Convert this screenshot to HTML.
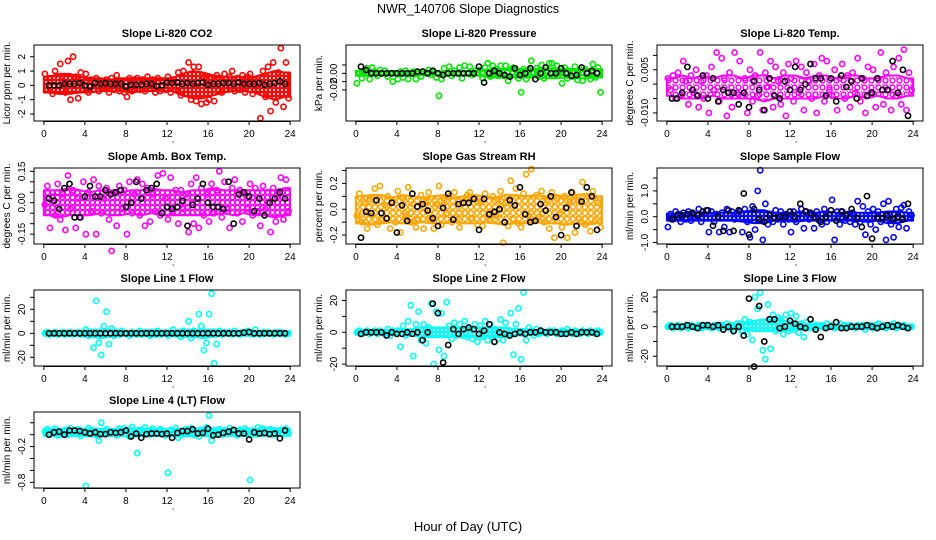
<!DOCTYPE html>
<html><head><meta charset="utf-8"><title>NWR_140706 Slope Diagnostics</title>
<style>
html,body{margin:0;padding:0;background:#fff;}
svg{display:block;font-family:"Liberation Sans",Arial,sans-serif;}
</style></head>
<body>
<svg id="chart" width="936" height="540" viewBox="0 0 936 540" xmlns="http://www.w3.org/2000/svg">
<defs id="defs"></defs>
<rect width="936" height="540" fill="#fff"/>
<text x="468" y="13" text-anchor="middle" font-size="12.5">NWR_140706  Slope Diagnostics</text>
<text x="468" y="531" text-anchor="middle" font-size="13">Hour of Day (UTC)</text>
<g id="panels"></g>
</svg>
<script>
// ---- data (colored: every 0.25 h, black: every 0.5 h, dense band: hourly low/high envelope) ----
const xTicks = [0,4,8,12,16,20,24];
const co2Color = [0.8,-0.3,0.5,-0.6, 1.0,-0.4,1.5,0.3, -0.5,1.7,-1.0,2.0, 0.6,-0.9,0.9,-0.3, 0.8,-0.5,0.4,-0.3, 0.5,-0.4,0.3,-0.2, 0.4,-0.5,0.5,-0.3, 0.7,-0.4,0.3,-0.5, -0.8,0.5,-0.4,0.4, 0.5,-0.3,0.4,-0.4, 0.6,-0.2,0.4,-0.5, 0.5,-0.4,0.3,-0.3, 0.6,-0.5,0.4,-0.3, 0.9,-0.7,1.0,-0.6, 1.6,-1.0,1.3,-1.1, 1.3,-1.3,0.6,-1.2, -1.0,0.5,-1.1,0.7, 0.5,-0.5,0.8,-0.3, 0.6,1.0,-0.4,0.5, -0.3,0.7,-0.5,0.6, 0.8,-0.6,0.4,-0.3, -2.3,1.0,-0.8,1.3, -1.8,1.6,-1.2,0.9, 2.6,-1.5,1.6,-0.9];
const co2Black = [0.0,0.0,0.0,0.1,0.1,0.1,0.15,0.0,-0.1,0.15,0.1,0.15,0.1,0.1,0.1,-0.1,0.05,0.05,0.05,0.1,0.1,-0.05,0.0,0.2,0.15,0.2,0.1,0.15,0.1,0.15,0.2,0.05,0.1,0.1,0.15,0.15,0.1,0.2,0.1,0.1,0.1,0.15,0.05,0.1,0.15,0.3,0.1];
const co2BandLo = [-0.5,-0.6,-0.6,-0.5,-0.5,-0.4,-0.4,-0.4,-0.5,-0.4,-0.4,-0.4,-0.4,-0.7,-0.9,-0.9,-0.7,-0.5,-0.4,-0.4,-0.5,-0.8,-1.0,-0.8];
const co2BandHi = [0.6,0.8,0.8,0.6,0.5,0.5,0.4,0.5,0.5,0.5,0.5,0.5,0.5,0.8,1.0,0.9,0.7,0.6,0.6,0.6,0.6,0.8,1.0,0.9];
const co2Ticks = [-2,-1,0,1,2];
const co2Labels = ["-2","-1","0","1","2"];

const presColor = [-0.012,0.000,-0.006,0.003, 0.006,-0.007,0.007,0.002, -0.003,0.004,0.000,0.003, -0.004,0.000,-0.010,0.000, -0.007,0.002,-0.005,0.003, -0.007,0.000,0.002,-0.007, 0.000,-0.004,0.002,0.000, 0.004,-0.002,0.002,-0.005, -0.027,-0.007,0.006,0.000, 0.008,-0.003,0.003,0.000, 0.007,-0.006,0.009,0.000, 0.008,-0.002,0.003,0.000, 0.004,-0.006,0.007,0.012, -0.004,0.009,0.005,-0.003, 0.009,-0.003,0.009,-0.009, 0.005,0.007,0.004,-0.006, -0.023,0.005,-0.007,0.004, 0.015,0.000,0.006,-0.004, 0.010,-0.006,0.003,0.012, 0.012,-0.003,0.009,0.002, -0.012,0.007,-0.006,0.003, -0.004,0.008,-0.008,0.004, -0.009,0.005,0.000,-0.007, 0.011,-0.005,0.007,-0.023];
const presBlack = [0.008,0.004,0.000,0.000,0.000,0.000,0.000,0.000,0.000,0.000,0.000,0.002,0.002,0.000,0.003,0.000,-0.002,0.000,0.000,0.000,0.000,0.000,0.000,0.008,-0.011,0.000,0.003,0.000,-0.002,-0.004,0.006,-0.002,0.000,0.006,-0.007,0.000,0.007,0.000,0.000,0.006,0.000,-0.003,-0.002,0.007,0.000,0.003,0.000];
const presBandLo = [-0.003,-0.003,-0.002,-0.002,-0.003,-0.003,-0.002,-0.002,-0.002,-0.002,-0.002,-0.002,-0.004,-0.005,-0.005,-0.005,-0.005,-0.005,-0.006,-0.006,-0.005,-0.006,-0.006,-0.005];
const presBandHi = [0.003,0.003,0.002,0.002,0.002,0.002,0.002,0.002,0.002,0.002,0.002,0.003,0.004,0.005,0.005,0.005,0.005,0.005,0.006,0.006,0.005,0.005,0.005,0.005];
const presTicks = [-0.02,-0.01,0,0.01];
const presLabels = ["-0.02","","0.00",""];

const tempColor = [0.002,-0.002,0.003,-0.005, 0.004,-0.004,0.008,0.001, -0.007,0.003,-0.003,0.005, -0.008,0.001,-0.005,0.003, -0.010,0.006,-0.002,0.011, -0.006,0.009,0.002,-0.011, 0.004,-0.008,0.011,-0.003, 0.008,-0.004,0.002,-0.010, 0.005,-0.006,0.003,-0.004, 0.011,-0.009,0.004,-0.001, 0.008,-0.008,0.006,0.001, -0.007,0.004,-0.011,0.007, 0.002,-0.006,0.008,-0.003, 0.006,-0.009,0.004,0.001, -0.005,0.007,-0.010,0.003, 0.009,-0.006,0.008,-0.002, -0.004,0.005,-0.009,0.002, 0.007,-0.005,0.003,-0.008, 0.004,-0.003,0.009,-0.006, 0.002,-0.010,0.006,-0.003, 0.005,-0.008,0.002,0.011, -0.007,0.004,-0.002,-0.009, 0.006,-0.004,0.009,-0.007, 0.012,-0.009,0.004,-0.002];
const tempBlack = [-0.005,-0.005,-0.003,0.006,-0.002,-0.004,0.003,-0.005,0.002,-0.006,-0.002,-0.003,-0.003,-0.007,-0.003,-0.008,0.001,-0.002,-0.009,0.002,-0.004,-0.005,0.001,-0.002,0.006,-0.002,0.000,0.007,0.002,0.002,-0.004,0.002,-0.006,0.003,-0.001,0.001,-0.005,0.002,-0.004,-0.003,0.002,-0.002,-0.002,0.008,-0.003,0.005,-0.011];
const tempBandLo = [-0.004,-0.005,-0.005,-0.005,-0.004,-0.005,-0.005,-0.005,-0.005,-0.006,-0.005,-0.005,-0.005,-0.005,-0.005,-0.004,-0.005,-0.005,-0.004,-0.005,-0.004,-0.005,-0.005,-0.004];
const tempBandHi = [0.002,0.003,0.002,0.003,0.002,0.003,0.003,0.002,0.003,0.003,0.002,0.003,0.003,0.002,0.003,0.003,0.002,0.003,0.003,0.002,0.002,0.003,0.003,0.002];
const tempTicks = [-0.01,-0.005,0,0.005,0.01];
const tempLabels = ["-0.010","","","0.005",""];

const ambColor = [-0.01,0.08,-0.12,0.03, -0.06,0.09,-0.08,0.04, -0.13,0.13,-0.03,0.06, -0.12,0.02,-0.07,0.10, -0.15,0.05,-0.04,0.11, -0.15,0.08,-0.05,0.02, 0.07,-0.08,-0.23,0.05, -0.11,0.08,-0.03,0.06, -0.15,0.10,-0.05,0.04, 0.11,-0.06,0.09,-0.11, 0.07,-0.09,0.04,-0.04, 0.13,-0.06,0.14,0.02, -0.08,0.12,-0.04,0.06, -0.10,0.06,-0.03,0.04, -0.14,0.09,-0.10,0.12, -0.12,0.07,-0.06,0.04, -0.09,0.09,-0.05,0.06, 0.15,-0.07,0.10,-0.03, -0.12,0.07,0.11,-0.05, 0.06,-0.09,0.04,-0.03, 0.09,-0.06,0.07,-0.04, -0.11,0.08,-0.03,0.05, -0.14,0.07,-0.09,0.04, 0.12,-0.08,0.11,-0.04];
const ambBlack = [0.02,0.01,-0.03,0.07,0.09,-0.07,-0.07,0.03,0.08,0.03,0.03,0.06,0.04,0.05,0.06,-0.02,0.00,0.10,0.02,0.06,0.07,0.09,-0.05,-0.02,-0.03,-0.02,0.01,-0.11,-0.01,0.02,0.09,0.00,-0.02,-0.02,-0.03,0.10,-0.10,0.04,0.05,0.03,-0.04,0.02,-0.06,0.00,0.02,0.05,0.02];
const ambBandLo = [-0.06,-0.07,-0.06,-0.06,-0.06,-0.05,-0.06,-0.06,-0.05,-0.06,-0.05,-0.06,-0.06,-0.06,-0.06,-0.06,-0.06,-0.05,-0.06,-0.05,-0.06,-0.06,-0.07,-0.06];
const ambBandHi = [0.06,0.06,0.07,0.06,0.05,0.06,0.06,0.05,0.06,0.06,0.07,0.06,0.06,0.05,0.06,0.06,0.07,0.06,0.06,0.06,0.06,0.06,0.06,0.07];
const ambTicks = [-0.15,-0.1,-0.05,0,0.05,0.1,0.15];
const ambLabels = ["-0.15","","","0.00","","","0.15"];

const rhColor = [-0.05,0.12,-0.10,0.05, -0.15,0.08,-0.05,0.16, -0.12,0.18,-0.08,0.03, 0.10,-0.15,0.06,-0.10, 0.14,-0.18,0.08,-0.05, 0.17,-0.10,0.04,-0.14, -0.08,0.11,-0.15,0.06, 0.13,-0.08,-0.15,0.04, 0.18,-0.12,0.07,-0.04, 0.10,-0.10,0.13,-0.06, -0.14,0.08,-0.03,0.11, 0.13,-0.07,0.09,-0.12, 0.06,-0.13,0.12,-0.04, -0.09,0.10,-0.05,0.07, 0.14,-0.26,0.05,-0.13, 0.22,-0.08,0.16,-0.11, -0.14,0.12,0.27,-0.05, 0.31,-0.09,0.11,-0.06, 0.14,-0.10,0.07,-0.15, 0.13,-0.22,0.08,-0.04, -0.14,0.10,-0.22,0.06, 0.13,-0.18,0.07,-0.10, 0.21,-0.12,0.10,-0.17, 0.14,-0.09,0.05,-0.14];
const rhBlack = [-0.22,-0.02,-0.03,0.07,-0.03,-0.07,0.05,-0.18,0.03,-0.09,0.12,0.02,0.04,-0.01,-0.07,-0.13,0.01,0.12,-0.08,0.04,0.05,0.05,0.08,-0.16,0.08,-0.04,-0.02,0.00,-0.10,0.07,0.03,0.17,-0.04,-0.10,-0.09,0.04,-0.01,0.10,-0.06,-0.20,0.01,0.13,-0.13,0.06,0.17,0.10,-0.16];
const rhBandLo = [-0.11,-0.12,-0.11,-0.10,-0.11,-0.11,-0.10,-0.11,-0.11,-0.10,-0.11,-0.11,-0.10,-0.11,-0.12,-0.11,-0.11,-0.10,-0.11,-0.11,-0.12,-0.11,-0.12,-0.11];
const rhBandHi = [0.10,0.11,0.11,0.09,0.11,0.10,0.09,0.10,0.11,0.09,0.10,0.11,0.10,0.09,0.11,0.11,0.10,0.11,0.10,0.11,0.10,0.11,0.12,0.10];
const rhTicks = [-0.2,-0.1,0,0.1,0.2,0.3];
const rhLabels = ["-0.2","","0.0","","0.2",""];

const sampColor = [-0.4,0.1,-0.1,0.2, 0.1,-0.2,0.15,-0.1, 0.2,-0.15,0.1,-0.05, 0.3,-0.2,0.1,0.25, -0.6,0.2,-0.2,0.1, -0.6,0.15,-0.4,0.3, -0.6,0.2,-0.1,0.15, 0.2,-0.6,0.3,-0.2, -0.8,0.4,-0.5,1.0, 1.8,-0.9,0.5,-0.3, 0.1,-0.2,0.25,-0.1, 0.2,-0.3,0.1,-0.1, -0.6,0.2,-0.2,0.1, 0.3,-0.45,0.2,-0.1, 0.1,-0.45,0.2,-0.15, -0.3,0.3,-0.2,0.1, 0.65,-0.9,0.2,-0.3, 0.2,-0.15,0.1,-0.2, 0.15,-0.3,0.6,-0.2, 0.4,-0.7,0.2,-0.3, 0.3,-0.5,0.2,-0.2, 0.5,-0.9,0.6,-0.3, -0.8,0.3,-0.4,0.35, 0.45,-0.45,0.2,0.05];
const sampBlack = [-0.1,0.05,0.05,0.1,0.15,0.05,0.2,0.25,-0.35,0.0,-0.55,0.25,-0.55,0.25,0.9,-0.7,0.3,-0.1,-0.2,0.05,-0.05,0.0,0.0,0.2,0.0,0.5,0.2,0.15,-0.05,-0.2,0.0,0.25,-0.15,0.2,0.05,0.3,-0.05,-0.4,0.8,-0.85,-0.05,-0.05,0.05,-0.1,0.0,-0.1,0.5];
const sampBandLo = [-0.15,-0.15,-0.15,-0.15,-0.15,-0.15,-0.15,-0.2,-0.25,-0.25,-0.15,-0.15,-0.2,-0.15,-0.15,-0.15,-0.15,-0.15,-0.15,-0.2,-0.15,-0.25,-0.25,-0.15];
const sampBandHi = [0.12,0.12,0.15,0.15,0.15,0.15,0.15,0.2,0.25,0.25,0.15,0.15,0.15,0.15,0.15,0.2,0.15,0.15,0.15,0.15,0.15,0.2,0.2,0.15];
const sampTicks = [-1,-0.5,0,0.5,1,1.5];
const sampLabels = ["-1.0","","0.0","","1.0",""];

const l1Color = [0,1,-1,0, 1,-1,0,1, -1,0,1,-1, 0,1,-1,0, 3,-2,1,-12, 27,-8,-18,6, 18,-9,4,-2, 1,-1,2,0, 0,-2,1,0, -1,2,-1,1, 0,-2,1,-1, 2,-1,0,1, -2,1,3,-1, 0,-3,2,0, 10,-4,2,-1, 16,6,-14,-8, 16,33,-25,-9, 2,-1,1,0, 1,-1,2,0, -1,1,0,2, 1,-1,3,0, -1,1,0,1, 0,-1,1,0, 1,0,-1,0];
const l1Black = [0,0,0,0,0,0,0,0,0,0,0,0,0,0,0,0,0,0,0,0,0,0,0,0,0,0,0,0,0,0,0,0,0,0,0,0,0,0,0.5,1,0,0,0,0,0,0,0];
const l1BandLo = [-2,-2,-2,-2,-3,-4,-3,-2,-2,-2,-3,-2,-2,-3,-3,-4,-3,-2,-2,-2,-2,-2,-2,-2];
const l1BandHi = [2,2,2,2,3,3,3,2,2,2,3,2,2,3,3,3,3,2,2,2,2,2,2,2];
const l1Ticks = [-20,-10,0,10,20,30];
const l1Labels = ["-20","","0","","20",""];

const l2Color = [0,1,-1,0, 1,-1,0,1, -1,1,0,-1, 2,-2,1,0, 1,-9,4,-2, 7,17,-15,5, 13,-5,5,-7, 3,18,-20,13, -11,12,-15,19, 4,-4,6,-2, 5,-2,7,-3, 2,-4,5,-6, 4,-3,7,-5, 5,-3,2,-4, 8,-5,6,-2, 12,-14,5,15, -17,25,-5,3, 1,-2,2,-1, 1,0,-1,1, 0,1,-1,0, 1,-1,2,0, -1,1,0,-1, 1,0,-1,1, 0,-1,1,0];
const l2Black = [-1,0,0,0,0,-2,0,-1,-1,0,-1,0,-5,0,18,12,-19,-8,2,-1,2,3,2,-1,1,5,-6,0,-1,-2,-1,0,-1,0,0,1,0,0,0,-1,-1,0,-1,0,0,0,-1];
const l2BandLo = [-1.5,-1.5,-1.5,-1.5,-2,-2,-3,-3,-3,-3,-3,-3,-3,-3,-3,-2,-2,-1.5,-1.5,-1.5,-1.5,-1.5,-1.5,-1.5];
const l2BandHi = [1.5,1.5,1.5,1.5,2,2,3,3,3,3,3,3,3,3,3,2,2,1.5,1.5,1.5,1.5,1.5,1.5,1.5];
const l2Ticks = [-20,-10,0,10,20];
const l2Labels = ["-20","","0","","20"];

const l3Color = [0,1,-1,0, 1,-1,0,1, -1,1,0,-1, 1,-1,0,1, 0,-1,1,0, -1,1,0,2, -1,1,-2,2, 2,-3,5,-5, 3,-9,20,12, 23,-16,-22,15, -15,8,-3,6, 5,-5,8,-3, 9,-2,7,-4, 2,-7,3,-1, 2,-1,1,0, 1,-1,2,0, 1,-1,0,2, -1,1,0,1, 0,-1,1,0, 1,-2,0,1, -1,1,2,0, 1,-1,0,1, 2,-1,1,0, 1,-1,0,0];
const l3Black = [0,0,0,1,0,-1,1,1,0,1,-2,0,-3,0,-6,19,-27,14,-10,5,5,-1,0,4,2,0,-1,5,-2,-7,-1,0,3,-1,-1,0,0,0,1,0,-1,0,1,0,1,0,-1];
const l3BandLo = [-1.5,-1.5,-1.5,-1.5,-1.5,-1.5,-1.5,-2,-3,-3,-3,-3,-2,-2,-1.5,-1.5,-1.5,-1.5,-1.5,-1.5,-1.5,-1.5,-1.5,-1.5];
const l3BandHi = [1.5,1.5,1.5,1.5,1.5,1.5,1.5,2,4,5,5,4,3,2,1.5,1.5,1.5,1.5,1.5,1.5,1.5,1.5,1.5,1.5];
const l3Ticks = [-20,-10,0,10,20];
const l3Labels = ["-20","","0","","20"];

const l4Color = [0.05,0.09,0.01,0.07, 0.10,-0.01,0.06,0.03, 0.08,0.00,0.11,0.04, 0.02,0.09,-0.02,0.06, -0.86,0.11,0.03,0.07, 0.00,-0.10,0.20,0.05, 0.09,0.01,0.06,0.03, -0.01,0.10,0.04,0.11, 0.07,-0.03,0.13,0.02, -0.31,0.08,0.03,0.12, 0.05,0.00,0.10,0.06, 0.02,0.09,0.04,-0.01, -0.64,0.08,0.03,0.11, -0.05,0.06,0.02,0.09, 0.04,0.11,0.00,0.07, -0.03,0.08,0.05,0.12, 0.32,-0.10,0.04,0.06, 0.09,0.00,0.07,0.03, 0.11,0.02,0.06,-0.01, 0.08,0.04,0.10,0.01, -0.76,0.07,0.03,0.12, 0.05,0.10,0.02,0.07, 0.09,0.00,0.06,0.04, 0.08,0.01,0.10,0.03];
const l4Black = [0.0,0.04,0.05,0.0,0.07,0.07,0.06,0.04,0.02,0.04,0.01,0.01,0.04,0.03,0.04,0.07,-0.03,0.02,-0.05,0.01,0.02,0.02,0.01,0.02,-0.05,0.03,0.06,0.06,0.09,0.02,0.03,0.10,-0.01,0.0,0.03,0.05,0.08,0.02,0.02,-0.08,0.04,0.02,0.03,0.01,0.02,-0.06,0.07];
const l4BandLo = [-0.02,-0.03,-0.02,-0.02,-0.03,-0.03,-0.02,-0.02,-0.03,-0.03,-0.02,-0.02,-0.03,-0.03,-0.02,-0.02,-0.03,-0.02,-0.02,-0.02,-0.03,-0.02,-0.02,-0.02];
const l4BandHi = [0.10,0.10,0.10,0.10,0.11,0.10,0.10,0.10,0.11,0.10,0.10,0.10,0.10,0.10,0.10,0.11,0.11,0.10,0.10,0.10,0.10,0.11,0.11,0.10];
const l4Ticks = [-0.8,-0.6,-0.4,-0.2,0,0.2];
const l4Labels = ["-0.8","","","-0.2","",""];

// ---- layout ----
const NS = "http://www.w3.org/2000/svg";
const colLeft = [34,346,657], rowTop = [45,168,290,412], BW = 266, BH = 76;
const panels = [
 {name:"co2", title:"Slope Li-820 CO2", ylab:"Licor ppm per min.", c:0,r:0, yTop:2.82,yBot:-2.49, color:"#ff0000", tile:4, col:co2Color, blk:co2Black, lo:co2BandLo, hi:co2BandHi, ticks:co2Ticks, labels:co2Labels},
 {name:"pressure", title:"Slope Li-820 Pressure", ylab:"kPa per min.", c:1,r:0, yTop:0.034,yBot:-0.0573, color:"#00e600", tile:5, col:presColor, blk:presBlack, lo:presBandLo, hi:presBandHi, ticks:presTicks, labels:presLabels},
 {name:"li820-temp", title:"Slope Li-820 Temp.", ylab:"degrees C per min.", c:2,r:0, yTop:0.0136,yBot:-0.0128, color:"#ff00ff", tile:7, col:tempColor, blk:tempBlack, lo:tempBandLo, hi:tempBandHi, ticks:tempTicks, labels:tempLabels},
 {name:"amb-box-temp", title:"Slope Amb. Box Temp.", ylab:"degrees C per min.", c:0,r:1, yTop:0.166,yBot:-0.197, color:"#ff00ff", tile:5, col:ambColor, blk:ambBlack, lo:ambBandLo, hi:ambBandHi, ticks:ambTicks, labels:ambLabels},
 {name:"gas-stream-rh", title:"Slope Gas Stream RH", ylab:"percent per min.", c:1,r:1, yTop:0.319,yBot:-0.269, color:"#ffa500", tile:6, col:rhColor, blk:rhBlack, lo:rhBandLo, hi:rhBandHi, ticks:rhTicks, labels:rhLabels},
 {name:"sample-flow", title:"Slope Sample Flow", ylab:"ml/min per min.", c:2,r:1, yTop:1.89,yBot:-1.06, color:"#0000ff", tile:4, col:sampColor, blk:sampBlack, lo:sampBandLo, hi:sampBandHi, ticks:sampTicks, labels:sampLabels},
 {name:"line1-flow", title:"Slope Line 1 Flow", ylab:"ml/min per min.", c:0,r:2, yTop:36.1,yBot:-27.25, color:"#00ffff", tile:4, col:l1Color, blk:l1Black, lo:l1BandLo, hi:l1BandHi, ticks:l1Ticks, labels:l1Labels},
 {name:"line2-flow", title:"Slope Line 2 Flow", ylab:"ml/min per min.", c:1,r:2, yTop:26.6,yBot:-21.2, color:"#00ffff", tile:4, col:l2Color, blk:l2Black, lo:l2BandLo, hi:l2BandHi, ticks:l2Ticks, labels:l2Labels},
 {name:"line3-flow", title:"Slope Line 3 Flow", ylab:"ml/min per min.", c:2,r:2, yTop:24.8,yBot:-26.6, color:"#00ffff", tile:4, col:l3Color, blk:l3Black, lo:l3BandLo, hi:l3BandHi, ticks:l3Ticks, labels:l3Labels},
 {name:"line4-flow", title:"Slope Line 4 (LT) Flow", ylab:"ml/min per min.", c:0,r:3, yTop:0.381,yBot:-0.895, color:"#00ffff", tile:4, col:l4Color, blk:l4Black, lo:l4BandLo, hi:l4BandHi, ticks:l4Ticks, labels:l4Labels}
];

function mk(tag, attrs, parent){
  const e = document.createElementNS(NS, tag);
  for (const k in attrs) e.setAttribute(k, attrs[k]);
  parent.appendChild(e);
  return e;
}
const defs = document.getElementById("defs");
const root = document.getElementById("panels");
panels.forEach(p => {
  const L = colLeft[p.c], T = rowTop[p.r];
  const xs = h => L + (h + 0.96) / 25.92 * BW;
  const ys = v => T + (p.yTop - v) / (p.yTop - p.yBot) * BH;
  // texture of overlapping open circles
  const pat = mk("pattern", {id: "pat-" + p.name, width: p.tile, height: p.tile, patternUnits: "userSpaceOnUse"}, defs);
  mk("circle", {cx: p.tile/2, cy: p.tile/2, r: Math.min(2.4, p.tile/2 - 0.2), fill: "none", stroke: p.color, "stroke-width": "1.5"}, pat);
  mk("rect", {x: 0, y: 0, width: 1.2, height: 1.2, fill: p.color}, pat);
  const g = mk("g", {}, root);
  
  
  const t = mk("text", {x: L + BW/2, y: T - 8, "text-anchor":"middle", "font-size":"11", "font-weight":"bold"}, g);
  t.textContent = p.title;
  
  
  // dense band of overlapping points (hourly envelope)
  let d = "M" + xs(0).toFixed(1) + "," + ys(p.hi[0]).toFixed(1);
  p.hi.forEach((v, i) => { d += " L" + xs(i + 0.5).toFixed(1) + "," + ys(v).toFixed(1); });
  d += " L" + xs(24).toFixed(1) + "," + ys(p.hi[23]).toFixed(1);
  d += " L" + xs(24).toFixed(1) + "," + ys(p.lo[23]).toFixed(1);
  for (let i = p.lo.length - 1; i >= 0; i--) d += " L" + xs(i + 0.5).toFixed(1) + "," + ys(p.lo[i]).toFixed(1);
  d += " L" + xs(0).toFixed(1) + "," + ys(p.lo[0]).toFixed(1) + " Z";
  const band = mk("path", {d: d, fill: "url(#pat-" + p.name + ")", stroke: p.color, "stroke-width": "2", "stroke-linejoin": "round"}, g);
  
  
  // points
  const pts = mk("g", {fill:"none", "stroke-width":"1.6"}, g);
  
  
  p.col.forEach((v, i) => {
    const c = mk("circle", {cx: xs(0.1 + i*0.25).toFixed(1), cy: ys(v).toFixed(1), r: 2.6, stroke: p.color}, pts);
    
    
  });
  p.blk.forEach((v, i) => {
    const c = mk("circle", {cx: xs(0.5 + i*0.5).toFixed(1), cy: ys(v).toFixed(1), r: 2.6, stroke: "#000"}, pts);
    
    
  });
  const box = mk("rect", {x: L, y: T, width: BW, height: BH, fill: "none", stroke: "#000", "stroke-width": "1"}, g);
  
  
  // x axis
  const xa = mk("g", {"font-size":"10"}, g);
  
  
  xTicks.forEach(h => {
    mk("line", {x1: xs(h), x2: xs(h), y1: T+BH, y2: T+BH+4, stroke:"#000"}, xa);
    const tl = mk("text", {x: xs(h), y: T+BH+16, "text-anchor":"middle"}, xa);
    tl.textContent = h;
    
    
  });
  mk("line", {x1: xs(0), x2: xs(24), y1: T+BH+0.5, y2: T+BH+0.5, stroke:"#000"}, xa);
  mk("circle", {cx: xs(12.6), cy: T+BH+21, r: 0.6, fill:"#000"}, xa);
  // y axis
  const ya = mk("g", {"font-size":"10"}, g);
  
  
  p.ticks.forEach((v, i) => {
    mk("line", {x1: L-4, x2: L, y1: ys(v), y2: ys(v), stroke:"#000"}, ya);
    if (p.labels[i]) {
      const tl = mk("text", {x: 0, y: 0, "text-anchor":"middle", transform:`translate(${L-9},${ys(v)}) rotate(-90)`}, ya);
      tl.textContent = p.labels[i];
      
      
    }
  });
  const yl = mk("text", {x:0, y:0, "text-anchor":"middle", "font-size":"10", transform:`translate(${L-24},${T+BH/2}) rotate(-90)`}, g);
  yl.textContent = p.ylab;
  
  
});
</script>
</body></html>
